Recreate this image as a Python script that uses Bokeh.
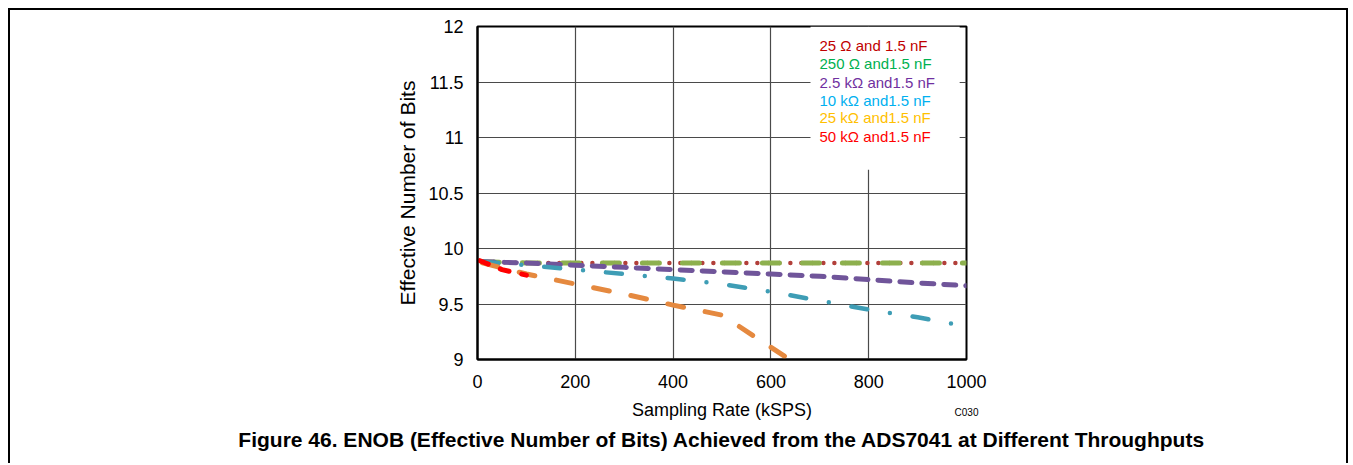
from bokeh.plotting import figure
from bokeh.models import Range1d, FixedTicker, Label, BoxAnnotation, LinearAxis, Title
from bokeh.embed import file_html
from bokeh.resources import INLINE

# ---- data ----
rate_flat = [10, 100, 200, 300, 400, 500, 600, 700, 800, 900, 980]
enob_25r = [9.88, 9.87, 9.87, 9.87, 9.87, 9.87, 9.87, 9.87, 9.87, 9.87, 9.87]
rate_250 = [10, 100, 200, 300, 400, 500, 600, 700, 800, 900, 1000]
enob_250r = [9.88, 9.87, 9.87, 9.87, 9.87, 9.87, 9.87, 9.87, 9.87, 9.87, 9.87]
rate_2k5 = [10, 100, 200, 300, 400, 500, 600, 700, 800, 900, 1000]
enob_2k5 = [9.88, 9.87, 9.85, 9.83, 9.81, 9.79, 9.77, 9.75, 9.72, 9.69, 9.665]
rate_10k = [10, 100, 200, 300, 400, 500, 600, 700, 800, 900, 975]
enob_10k = [9.88, 9.85, 9.81, 9.77, 9.73, 9.68, 9.61, 9.53, 9.45, 9.38, 9.32]
rate_25k = [10, 100, 200, 300, 400, 500, 600, 700]
enob_25k = [9.87, 9.77, 9.68, 9.59, 9.49, 9.40, 9.11, 8.82]
rate_50k = [5, 50, 100]
enob_50k = [9.89, 9.81, 9.76]

legend_labels = ["25 \u03a9 and 1.5 nF", "250 \u03a9 and1.5 nF", "2.5 k\u03a9 and1.5 nF",
                 "10 k\u03a9 and1.5 nF", "25  k\u03a9 and1.5 nF", "50 k\u03a9 and1.5 nF"]
legend_colors = ["#C00000", "#00B050", "#7030A0", "#00B0F0", "#FFC000", "#FF0000"]

x_ticks = [0, 200, 400, 600, 800, 1000]
y_ticks = [9, 9.5, 10, 10.5, 11, 11.5, 12]
y_tick_text = ["9", "9.5", "10", "10.5", "11", "11.5", "12"]
x_label = "Sampling Rate (kSPS)"
y_label = "Effective Number of Bits"
code_text = "C030"
title_text = "Figure 46. ENOB (Effective Number of Bits) Achieved from the ADS7041 at Different Throughputs"

FONT = "Liberation Sans"
W, H = 1340, 455

p = figure(width=W, height=H, output_backend="svg", toolbar_location=None,
           x_range=Range1d(0, 1000), y_range=Range1d(9, 12),
           min_border_left=467, min_border_right=W - 956,
           min_border_top=16, min_border_bottom=H - 349)
p.styles = {"margin-left": "8px", "margin-top": "8px",
            "border-left": "2px solid black", "border-top": "2px solid black",
            "border-right": "2px solid black"}

p.outline_line_color = "black"
p.outline_line_width = 2
p.background_fill_color = "white"
p.border_fill_color = "white"

for ax in (p.xaxis[0], p.yaxis[0]):
    ax.axis_line_color = "black"
    ax.axis_line_width = 2
    ax.major_tick_line_color = None
    ax.minor_tick_line_color = None
    ax.major_tick_out = 0
    ax.major_tick_in = 0
    ax.minor_tick_out = 0
    ax.minor_tick_in = 0
    ax.major_label_text_font = FONT
    ax.major_label_text_font_size = "18px"
    ax.major_label_text_color = "black"

p.xaxis.ticker = FixedTicker(ticks=x_ticks)
p.yaxis.ticker = FixedTicker(ticks=y_ticks)
p.yaxis.major_label_overrides = {t: s for t, s in zip(y_ticks, y_tick_text)}
p.xaxis.major_label_standoff = 15
p.yaxis.major_label_standoff = 14
p.yaxis.axis_label = y_label
p.yaxis.axis_label_text_font = FONT
p.yaxis.axis_label_text_font_size = "21px"
p.yaxis.axis_label_text_font_style = "normal"
p.yaxis.axis_label_text_color = "black"
p.yaxis.axis_label_standoff = 6

# second bottom axis: carries the x-axis title and the "C030" code on one row
ax2 = LinearAxis(ticker=FixedTicker(ticks=[1000]), major_label_overrides={1000: code_text},
                 axis_line_color=None, major_tick_line_color=None, minor_tick_line_color=None,
                 major_tick_out=0, major_tick_in=0, minor_tick_out=0, minor_tick_in=0,
                 major_label_text_font=FONT, major_label_text_font_size="10px",
                 major_label_text_color="black", major_label_standoff=16,
                 axis_label=x_label, axis_label_text_font=FONT,
                 axis_label_text_font_size="18px", axis_label_text_font_style="normal",
                 axis_label_text_color="black", axis_label_standoff=-21)
p.add_layout(ax2, "below")

p.add_layout(Title(text=title_text, align="center", standoff=7,
                   text_font=FONT, text_font_size="21px", text_font_style="bold",
                   text_color="black"), "below")

p.xgrid.ticker = FixedTicker(ticks=x_ticks)
p.ygrid.ticker = FixedTicker(ticks=y_ticks)
for g in (p.xgrid[0], p.ygrid[0]):
    g.grid_line_color = "#4a4a4a"
    g.grid_line_width = 1.2

# ---- legend background (white box hiding the grid) ----
p.add_layout(BoxAnnotation(left=681, right=986, bottom=10.71, top=12,
                           fill_color="white", fill_alpha=1.0, line_color=None,
                           level="underlay"))

# ---- series ----
p.line(rate_flat, enob_25r, line_color="#B23F3A", line_width=4.5,
       line_dash="0 11", line_cap="round")
p.line(rate_250, enob_250r, line_color="#8DB04E", line_width=5,
       line_dash="17 23", line_cap="round")
p.line(rate_2k5, enob_2k5, line_color="#70559A", line_width=5,
       line_dash="12 10", line_cap="round")
p.line(rate_10k, enob_10k, line_color="#3E9DB5", line_width=4.5,
       line_dash="16 23 0 23", line_cap="round")
p.line(rate_25k, enob_25k, line_color="#E5893F", line_width=5,
       line_dash="16 22", line_cap="round")
p.line(rate_50k, enob_50k, line_color="#FF0000", line_width=5,
       line_dash="9 13", line_cap="round")

leg_y = [33, 51, 70, 88, 105, 124]
for txt, col, yy in zip(legend_labels, legend_colors, leg_y):
    p.add_layout(Label(x=807, y=yy, x_units="canvas", y_units="canvas", text=txt,
                       text_color=col, text_font=FONT, text_font_size="15px",
                       text_baseline="middle", text_align="left"))

open("out.html", "w").write(file_html(p, INLINE))
